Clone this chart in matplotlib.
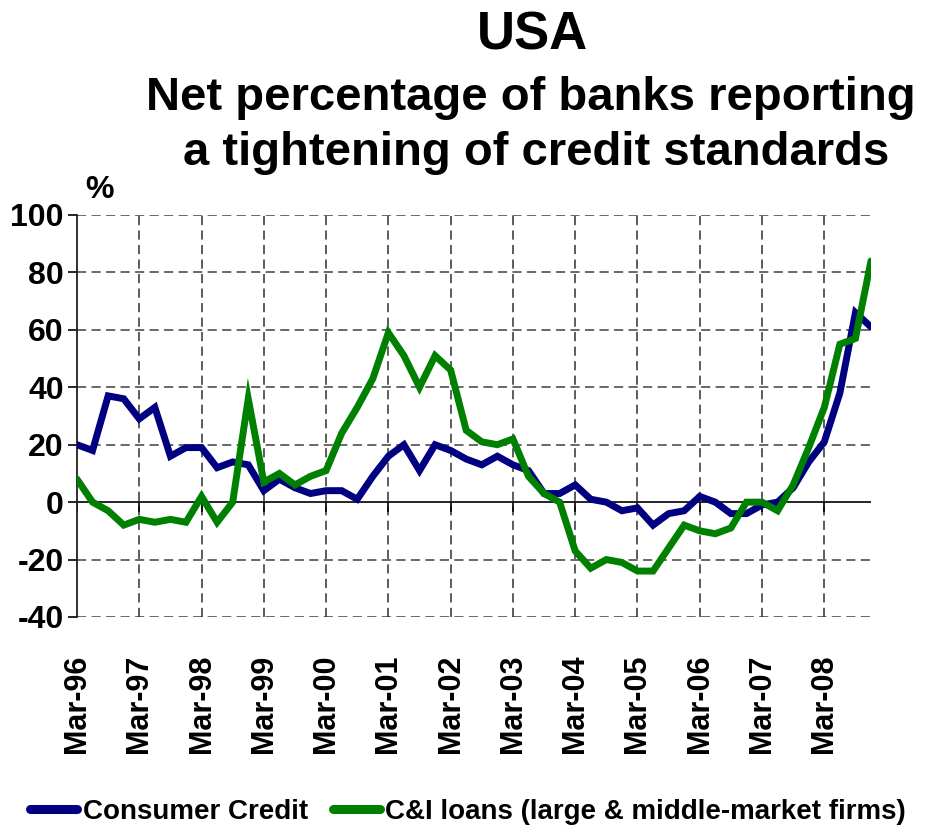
import matplotlib
matplotlib.use("Agg")
import matplotlib.pyplot as plt
import numpy as np

# ---------------- data ----------------
quarters = np.arange(52)  # Mar-96 ... Dec-08, quarterly
consumer_credit = [20, 18, 37, 36, 29, 33, 16, 19, 19, 12, 14, 13, 4, 8, 5, 3,
                   4, 4, 1, 9, 16, 20, 11, 20, 18, 15, 13, 16, 13, 11, 3, 3,
                   6, 1, 0, -3, -2, -8, -4, -3, 2, 0, -4, -4, -1, 0, 5, 14,
                   21, 38, 66, 61]
ci_loans = [8, 0, -3, -8, -6, -7, -6, -7, 2, -7, 0, 36, 7, 10, 6, 9,
            11, 24, 33, 43, 59, 51, 40, 51, 46, 25, 21, 20, 22, 9, 3, 0,
            -17, -23, -20, -21, -24, -24, -16, -8, -10, -11, -9, 0, 0, -3, 6, 19,
            33, 55, 57, 84]
tick_pos = [0, 4, 8, 12, 16, 20, 24, 28, 32, 36, 40, 44, 48]
tick_labels = ["Mar-96", "Mar-97", "Mar-98", "Mar-99", "Mar-00", "Mar-01", "Mar-02",
               "Mar-03", "Mar-04", "Mar-05", "Mar-06", "Mar-07", "Mar-08"]
y_ticks = [-40, -20, 0, 20, 40, 60, 80, 100]
series_names = ["Consumer Credit", "C&I loans (large & middle-market firms)"]

FONT = ["Liberation Sans", "DejaVu Sans"]

W, H = 926, 834
fig = plt.figure(figsize=(W / 100, H / 100), dpi=100)
ax = fig.add_axes([77 / W, 1 - 617 / H, (871 - 77) / W, (617 - 215) / H])

ax.plot(quarters, consumer_credit, color="#000080", lw=5.0, solid_joinstyle="miter",
        solid_capstyle="round", label=series_names[0], zorder=4)
ax.plot(quarters, ci_loans, color="#008000", lw=5.0, solid_joinstyle="miter",
        solid_capstyle="round", label=series_names[1], zorder=5)

ax.set_xlim(0, 51)
ax.set_ylim(-40, 100)

# grid
for yv in y_ticks:
    if yv != 0:
        ax.axhline(yv, color="#404040", lw=1.1, ls=(0, (6, 3.5)), zorder=1)
for xv in tick_pos[1:]:
    ax.axvline(xv, color="#303030", lw=1.1, ls=(0, (6, 3.5)), zorder=1)
ax.axhline(0, color="black", lw=1.2, zorder=2)
ax.vlines(tick_pos, -3.5, 0, color="black", lw=1.2, zorder=2)

for s in ["top", "right", "bottom"]:
    ax.spines[s].set_visible(False)
ax.spines["left"].set_color("#202020")
ax.spines["left"].set_linewidth(1.3)

ax.set_yticks(y_ticks)
ax.set_yticklabels([str(v) for v in y_ticks], fontfamily=FONT, fontweight="bold", fontsize=23)
ax.tick_params(axis="y", direction="out", length=6.5, width=1.2, pad=3)

ax.set_xticks(tick_pos)
ax.set_xticklabels(tick_labels, rotation=90, fontfamily=FONT, fontweight="bold", fontsize=22)
ax.tick_params(axis="x", length=0, pad=27)

# titles
fig.text(532 / W, 1 - 50 / H, "USA", ha="center", va="baseline",
         fontfamily=FONT, fontweight="bold", fontsize=38)
fig.text(531 / W, 1 - 110 / H, "Net percentage of banks reporting", ha="center", va="baseline",
         fontfamily=FONT, fontweight="bold", fontsize=34)
fig.text(536 / W, 1 - 165 / H, "a tightening of credit standards", ha="center", va="baseline",
         fontfamily=FONT, fontweight="bold", fontsize=34)
fig.text(100 / W, 1 - 198 / H, "%", ha="center", va="baseline",
         fontfamily=FONT, fontweight="bold", fontsize=23)

leg = fig.legend(loc="center", bbox_to_anchor=(468 / W, 1 - 812 / H), ncol=2, frameon=False,
                 prop={"family": FONT, "weight": "bold", "size": 20},
                 handlelength=1.7, handletextpad=0.2, columnspacing=0.9, borderaxespad=0)
for ln in leg.get_lines():
    ln.set_linewidth(6.5)
    ln.set_solid_capstyle("round")

fig.savefig("out.png", dpi=100)
